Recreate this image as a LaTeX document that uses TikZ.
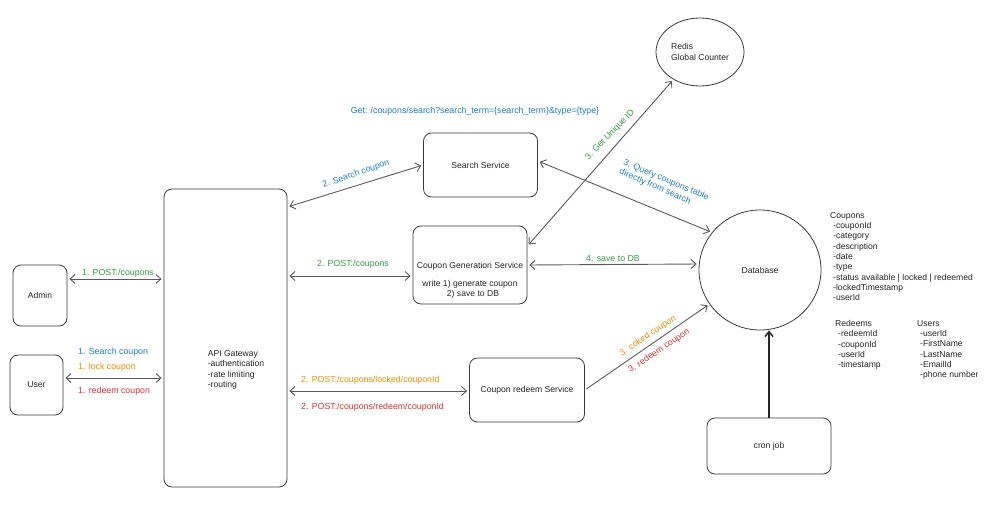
\documentclass[tikz,border=0pt]{standalone}
\usepackage{fontspec}
\setmainfont{Liberation Sans}
\usetikzlibrary{arrows.meta,shapes.geometric}
\definecolor{exgreen}{HTML}{2F9E44}
\definecolor{exblue}{HTML}{1C7ED6}
\definecolor{exorange}{HTML}{F08C00}
\definecolor{exred}{HTML}{E03131}
\definecolor{boxc}{HTML}{3A3A3A}
\definecolor{linec}{HTML}{5A5A5A}
\begin{document}
\begin{tikzpicture}[x=1pt,y=-1pt,
  every node/.style={font=\fontsize{8.6}{10.3}\selectfont, inner sep=0pt, text=black!85},
  box/.style={draw=boxc, line width=0.8pt, rounded corners=8pt},
  oval/.style={draw=boxc, line width=0.8pt, ellipse},
  tip/.tip={Straight Barb[length=5pt,width=9pt]},
  both/.style={draw=linec, line width=0.9pt, tip-tip, shorten <=2pt, shorten >=2pt},
  one/.style={draw=linec, line width=0.9pt, -tip, shorten <=2pt, shorten >=2pt},
  lbl/.style={font=\fontsize{8.8}{10.5}\selectfont},
  g/.style={lbl, text=exgreen},
  b/.style={lbl, text=exblue},
  o/.style={lbl, text=exorange},
  r/.style={lbl, text=exred},
  plain/.style={align=left, anchor=north west}
]
\useasboundingbox (0,0) rectangle (1000,511);

% boxes
\node[box, minimum width=54pt, minimum height=61pt] (admin) at (40,295.5) {Admin};
\node[box, minimum width=53pt, minimum height=60pt] (user) at (36.5,385) {User};
\node[box, minimum width=123pt, minimum height=298pt] (api) at (225.5,338) {};
\node[align=left] (apitxt) at (236,370) {API Gateway\\-authentication\\-rate limiting\\-routing};
\node[box, minimum width=114pt, minimum height=64pt] (search) at (480.5,165) {Search Service};
\node[box, minimum width=114pt, minimum height=78pt] (cgs) at (470,265) {};
\node (cgstitle) at (470,266) {Coupon Generation Service};
\node[align=center] (cgstxt) at (470,289) {write 1) generate coupon\\\hspace*{6pt}2) save to DB};
\node[box, minimum width=115pt, minimum height=64pt] (redeem) at (527,390) {Coupon redeem Service};
\node[oval, minimum width=88pt, minimum height=68pt, align=left] (redis) at (700,52) {Redis\\Global Counter};
\node[oval, minimum width=122pt, minimum height=120pt] (db) at (760,270) {Database};
\node[box, minimum width=124pt, minimum height=56pt] (cron) at (769,446) {cron job};

% tables
\node[plain] (coupons) at (830,212) {Coupons\\
\hspace*{3pt}-couponId\\
\hspace*{3pt}-category\\
\hspace*{3pt}-description\\
\hspace*{3pt}-date\\
\hspace*{3pt}-type\\
\hspace*{3pt}-status available | locked | redeemed\\
\hspace*{3pt}-lockedTimestamp\\
\hspace*{3pt}-userId};
\node[plain] (redeems) at (835,320) {Redeems\\
\hspace*{3pt}-redeemId\\
\hspace*{3pt}-couponId\\
\hspace*{3pt}-userId\\
\hspace*{3pt}-timestamp};
\node[plain] (users) at (917,320) {Users\\
\hspace*{3pt}-userId\\
\hspace*{3pt}-FirstName\\
\hspace*{3pt}-LastName\\
\hspace*{3pt}-EmailId\\
\hspace*{3pt}-phone number};

% connectors
\draw[both] (admin.east |- 0,279) -- (api.west |- 0,279);
\draw[both] (user.east |- 0,378) -- (api.west |- 0,378);
\draw[both] (api.east |- 0,207) -- (search.west);
\draw[both] (api.east |- 0,276) -- (cgs.west |- 0,276);
\draw[both] (api.east |- 0,391) -- (redeem.west |- 0,391);
\draw[both] (cgs.east |- 0,246) -- (redis.226);
\draw[both] (search.east |- 0,161) -- (db.142);
\draw[both] (cgs.east |- 0,265) -- (db.west |- 0,264);
\draw[one] (redeem.east) -- (db.214);
\draw[draw=black!85, line width=1.5pt, -{Straight Barb[length=5pt,width=8pt]}] (cron.north) -- (cron.north |- db.south);

% labels
\node[g] (l1) at (118,273) {1. POST:/coupons};
\node[b, anchor=west] (l2) at (78,352) {1. Search coupon};
\node[o, anchor=west] (l3) at (78,367) {1. lock coupon};
\node[r, anchor=west] (l4) at (78,391) {1. redeem coupon};
\node[b, rotate=19] (l5) at (356,174) {2. Search coupon};
\node[b] (l6) at (475,111) {Get: /coupons/search?search\_term=\{search\_term\}\&type=\{type\}};
\node[g] (l7) at (353,264) {2. POST:/coupons};
\node[g] (l8) at (613,259) {4. save to DB};
\node[g, rotate=46] (l9) at (610,135) {3. Get Unique ID};
\node[b, rotate=-23, align=left] (l10) at (664,185) {3. Query coupons table\\directly from search};
\node[o, anchor=west] (l11) at (301,380) {2. POST:/coupons/locked/couponId};
\node[r, anchor=west] (l12) at (301,407) {2. POST:/coupons/redeem/couponId};
\node[o, rotate=34] (l13) at (648,336) {3. coked coupon};
\node[r, rotate=34] (l14) at (659,351) {3. redeem coupon};
\end{tikzpicture}
\end{document}
